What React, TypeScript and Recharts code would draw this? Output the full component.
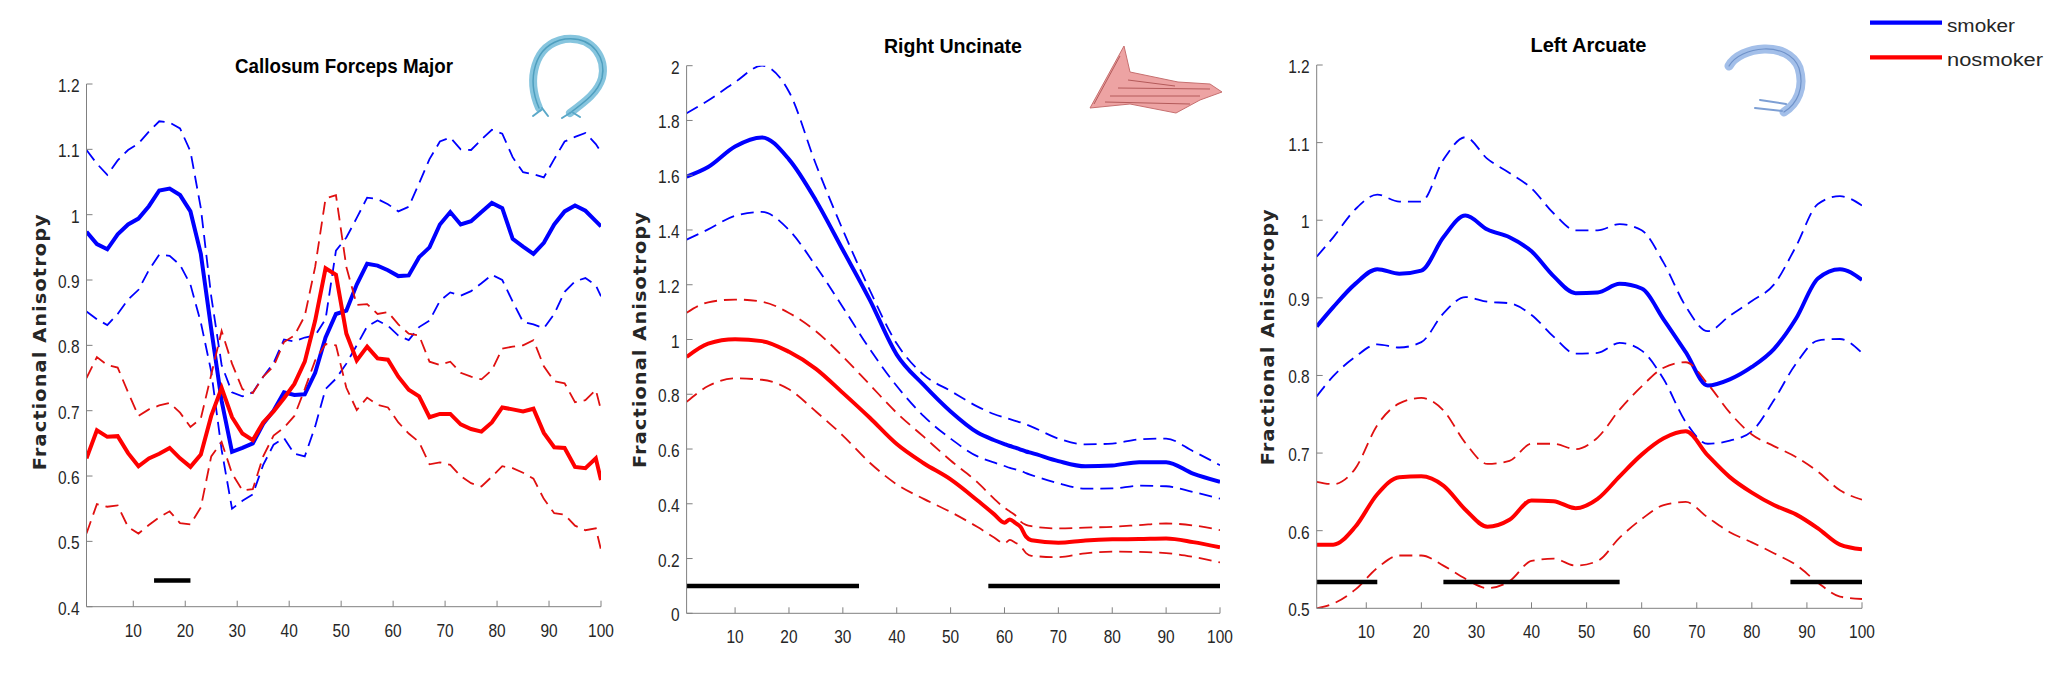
import { LineChart, Line, XAxis, YAxis, ReferenceLine } from 'recharts'

// ---- panel 1: Callosum Forceps Major ----
const x1 = [1, 3, 5, 7, 9, 11, 13, 15, 17, 19, 21, 23, 25, 27, 29, 31, 33, 35, 37, 39, 41, 43, 45, 47, 49, 51, 53, 55, 57, 59, 61, 63, 65, 67, 69, 71, 73, 75, 77, 79, 81, 83, 85, 87, 89, 91, 93, 95, 97, 99, 100]
const p1SmokerMean = [0.974, 0.955, 0.947, 0.97, 0.985, 0.994, 1.013, 1.037, 1.04, 1.03, 1.005, 0.94, 0.825, 0.715, 0.637, 0.643, 0.65, 0.68, 0.7, 0.728, 0.724, 0.725, 0.758, 0.812, 0.848, 0.853, 0.893, 0.925, 0.922, 0.915, 0.906, 0.907, 0.935, 0.95, 0.985, 1.004, 0.985, 0.99, 1.004, 1.018, 1.01, 0.963, 0.951, 0.94, 0.957, 0.985, 1.005, 1.014, 1.006, 0.99, 0.982]
const p1SmokerUpper = [1.099, 1.078, 1.061, 1.083, 1.099, 1.109, 1.127, 1.143, 1.141, 1.132, 1.097, 1.01, 0.875, 0.77, 0.728, 0.722, 0.728, 0.752, 0.773, 0.809, 0.806, 0.812, 0.815, 0.84, 0.945, 0.965, 0.995, 1.026, 1.024, 1.016, 1.005, 1.012, 1.048, 1.085, 1.112, 1.118, 1.1, 1.099, 1.115, 1.13, 1.124, 1.088, 1.065, 1.062, 1.057, 1.085, 1.112, 1.119, 1.125, 1.108, 1.096]
const p1SmokerLower = [0.852, 0.84, 0.831, 0.848, 0.87, 0.885, 0.915, 0.939, 0.937, 0.923, 0.893, 0.835, 0.76, 0.64, 0.55, 0.562, 0.572, 0.617, 0.648, 0.658, 0.634, 0.63, 0.676, 0.733, 0.749, 0.772, 0.8, 0.829, 0.838, 0.83, 0.815, 0.808, 0.828, 0.838, 0.868, 0.881, 0.876, 0.883, 0.895, 0.908, 0.9, 0.867, 0.836, 0.832, 0.826, 0.848, 0.882, 0.898, 0.903, 0.892, 0.875]
const p1NonMean = [0.627, 0.67, 0.66, 0.661, 0.635, 0.615, 0.627, 0.634, 0.643, 0.627, 0.614, 0.633, 0.692, 0.735, 0.69, 0.665, 0.655, 0.682, 0.699, 0.719, 0.741, 0.775, 0.838, 0.918, 0.908, 0.818, 0.777, 0.798, 0.78, 0.778, 0.752, 0.732, 0.722, 0.69, 0.695, 0.695, 0.679, 0.672, 0.668, 0.682, 0.705, 0.702, 0.699, 0.703, 0.666, 0.644, 0.643, 0.614, 0.612, 0.627, 0.594]
const p1NonUpper = [0.75, 0.782, 0.77, 0.766, 0.728, 0.692, 0.702, 0.708, 0.712, 0.697, 0.675, 0.688, 0.755, 0.822, 0.772, 0.733, 0.727, 0.752, 0.768, 0.805, 0.815, 0.845, 0.92, 1.025, 1.03, 0.92, 0.862, 0.863, 0.848, 0.851, 0.832, 0.818, 0.815, 0.775, 0.77, 0.775, 0.758, 0.752, 0.748, 0.762, 0.795, 0.798, 0.8, 0.808, 0.768, 0.745, 0.742, 0.713, 0.716, 0.732, 0.701]
const p1NonLower = [0.512, 0.557, 0.553, 0.555, 0.522, 0.512, 0.525, 0.537, 0.546, 0.528, 0.526, 0.552, 0.63, 0.652, 0.604, 0.578, 0.58, 0.63, 0.662, 0.674, 0.692, 0.733, 0.777, 0.802, 0.8, 0.735, 0.701, 0.72, 0.709, 0.705, 0.682, 0.665, 0.652, 0.618, 0.621, 0.617, 0.6, 0.589, 0.584, 0.599, 0.615, 0.612, 0.605, 0.596, 0.565, 0.543, 0.541, 0.524, 0.517, 0.52, 0.487]
const p1Ticks = [0.4, 0.5, 0.6, 0.7, 0.8, 0.9, 1, 1.1, 1.2]
const p1Bars = [[14, 21]]
const p1BarLevel = 0.44

// ---- panel 2: Right Uncinate ----
const x2 = [1, 5, 10, 15, 20, 25, 30, 35, 40, 45, 50, 55, 58, 60, 61, 62, 63, 64, 65, 70, 75, 80, 85, 90, 95, 100]
const p2SmokerMean = [1.595, 1.63, 1.705, 1.738, 1.658, 1.508, 1.327, 1.145, 0.945, 0.834, 0.737, 0.66, 0.633, 0.618, 0.611, 0.605, 0.598, 0.591, 0.586, 0.556, 0.537, 0.54, 0.552, 0.552, 0.51, 0.48]
const p2SmokerUpper = [1.826, 1.873, 1.94, 2.0, 1.905, 1.64, 1.4, 1.18, 0.985, 0.871, 0.812, 0.755, 0.728, 0.715, 0.709, 0.703, 0.697, 0.69, 0.682, 0.638, 0.617, 0.62, 0.635, 0.638, 0.592, 0.541]
const p2SmokerLower = [1.365, 1.402, 1.452, 1.466, 1.4, 1.268, 1.118, 0.965, 0.83, 0.72, 0.638, 0.573, 0.551, 0.538, 0.531, 0.526, 0.521, 0.512, 0.505, 0.475, 0.455, 0.456, 0.466, 0.464, 0.443, 0.419]
const p2NonMean = [0.936, 0.985, 1.001, 0.994, 0.955, 0.893, 0.805, 0.714, 0.618, 0.548, 0.489, 0.412, 0.363, 0.331, 0.343, 0.33, 0.315, 0.28, 0.267, 0.258, 0.266, 0.27, 0.271, 0.273, 0.26, 0.241]
const p2NonUpper = [1.098, 1.136, 1.146, 1.138, 1.097, 1.03, 0.938, 0.835, 0.732, 0.645, 0.558, 0.478, 0.42, 0.385, 0.372, 0.358, 0.335, 0.323, 0.318, 0.31, 0.313, 0.316, 0.322, 0.328, 0.321, 0.304]
const p2NonLower = [0.772, 0.83, 0.858, 0.853, 0.818, 0.737, 0.649, 0.55, 0.471, 0.418, 0.37, 0.315, 0.278, 0.255, 0.268, 0.258, 0.245, 0.22, 0.21, 0.205, 0.219, 0.225, 0.224, 0.22, 0.206, 0.186]
const p2Ticks = [0, 0.2, 0.4, 0.6, 0.8, 1, 1.2, 1.4, 1.6, 1.8, 2]
const p2Bars = [[1, 33], [57, 100]]
const p2BarLevel = 0.1

// ---- panel 3: Left Arcuate ----
const x3 = [1, 4, 8, 12, 16, 20, 24, 28, 32, 36, 40, 44, 48, 52, 56, 60, 64, 68, 72, 76, 80, 84, 88, 92, 96, 100]
const p3SmokerMean = [0.863, 0.888, 0.918, 0.937, 0.931, 0.935, 0.978, 1.006, 0.988, 0.978, 0.96, 0.928, 0.906, 0.907, 0.918, 0.912, 0.872, 0.83, 0.787, 0.795, 0.811, 0.834, 0.873, 0.925, 0.937, 0.923]
const p3SmokerUpper = [0.953, 0.978, 1.014, 1.033, 1.024, 1.024, 1.078, 1.107, 1.079, 1.061, 1.041, 1.009, 0.987, 0.987, 0.995, 0.987, 0.945, 0.889, 0.857, 0.877, 0.896, 0.917, 0.966, 1.021, 1.031, 1.019]
const p3SmokerLower = [0.773, 0.799, 0.824, 0.84, 0.836, 0.843, 0.88, 0.901, 0.895, 0.893, 0.878, 0.85, 0.828, 0.829, 0.842, 0.832, 0.795, 0.74, 0.712, 0.716, 0.728, 0.768, 0.815, 0.845, 0.847, 0.829]
const p3NonMean = [0.582, 0.582, 0.605, 0.647, 0.669, 0.67, 0.658, 0.627, 0.605, 0.614, 0.639, 0.638, 0.629, 0.641, 0.67, 0.698, 0.719, 0.728, 0.697, 0.669, 0.649, 0.633, 0.621, 0.603, 0.582, 0.576]
const p3NonUpper = [0.663, 0.66, 0.68, 0.736, 0.764, 0.771, 0.755, 0.713, 0.686, 0.69, 0.712, 0.712, 0.705, 0.72, 0.756, 0.786, 0.81, 0.817, 0.789, 0.752, 0.724, 0.709, 0.695, 0.676, 0.652, 0.64]
const p3NonLower = [0.5, 0.506, 0.524, 0.552, 0.568, 0.568, 0.555, 0.538, 0.526, 0.535, 0.561, 0.564, 0.555, 0.561, 0.591, 0.615, 0.633, 0.637, 0.617, 0.598, 0.585, 0.571, 0.556, 0.533, 0.515, 0.512]
const p3Ticks = [0.5, 0.6, 0.7, 0.8, 0.9, 1, 1.1, 1.2]
const p3Bars = [[1, 12], [24, 56], [87, 100]]
const p3BarLevel = 0.534

const xTicks = [10, 20, 30, 40, 50, 60, 70, 80, 90, 100]
const titles = ['Callosum Forceps Major', 'Right Uncinate', 'Left Arcuate']
const legendNames = ['smoker', 'nosmoker']

const W = 2060
const H = 677
const YAW = 60 // y axis width
const XAH = 30 // x axis height
const BLUE = '#0000ff'
const RED = '#ff0000'
const RED_DASH = '#e01010'
const AXIS = '#808080'
const TXT = '#262626'

function rows(xs, a, b, c, d, e, f) {
  return xs.map((x, i) => ({ x, sm: a[i], su: b[i], sl: c[i], nm: d[i], nu: e[i], nl: f[i] }))
}

const data1 = rows(x1, p1SmokerMean, p1SmokerUpper, p1SmokerLower, p1NonMean, p1NonUpper, p1NonLower)
const data2 = rows(x2, p2SmokerMean, p2SmokerUpper, p2SmokerLower, p2NonMean, p2NonUpper, p2NonLower)
const data3 = rows(x3, p3SmokerMean, p3SmokerUpper, p3SmokerLower, p3NonMean, p3NonUpper, p3NonLower)

function XTick({ x, y, payload }: any) {
  return (
    <g>
      <line x1={x} x2={x} y1={y} y2={y - 6} stroke={AXIS} />
      <text
        transform={`translate(${x},${y + 30}) scale(0.86,1)`}
        textAnchor="middle"
        fontSize={18}
        fontFamily="Liberation Sans, Arial, sans-serif"
        fill={TXT}
      >
        {payload.value}
      </text>
    </g>
  )
}

function YTick({ x, y, payload }: any) {
  const label = Number(Number(payload.value).toFixed(1)).toString()
  return (
    <g>
      <line x1={x} x2={x + 6} y1={y} y2={y} stroke={AXIS} />
      <text
        transform={`translate(${x - 7},${y + 8}) scale(0.86,1)`}
        textAnchor="end"
        fontSize={18}
        fontFamily="Liberation Sans, Arial, sans-serif"
        fill={TXT}
      >
        {label}
      </text>
    </g>
  )
}

// plot box in page pixels: left, right, top, bottom
function Panel({ data, box, domain, ticks, bars, barLevel, curve }: any) {
  const [l, r, t, b] = box
  const margin = { left: l - YAW, right: W - r, top: t, bottom: H - b - XAH }
  const dashed = { strokeWidth: 1.8, strokeDasharray: '13 7' }
  return (
    <div style={{ position: 'absolute', left: 0, top: 0 }}>
      <LineChart width={W} height={H} data={data} margin={margin}>
        <XAxis
          dataKey="x"
          type="number"
          domain={[1, 100]}
          ticks={xTicks}
          allowDataOverflow
          height={XAH}
          tickSize={0}
          tickMargin={0}
          tickLine={false}
          axisLine={{ stroke: AXIS }}
          tick={(p) => <XTick {...p} />}
        />
        <YAxis
          type="number"
          domain={domain}
          ticks={ticks}
          allowDataOverflow
          width={YAW}
          tickSize={0}
          tickMargin={0}
          tickLine={false}
          axisLine={{ stroke: AXIS }}
          tick={(p) => <YTick {...p} />}
          interval={0}
        />
        <Line type={curve} dataKey="su" stroke={BLUE} {...dashed} dot={false} activeDot={false} isAnimationActive={false} />
        <Line type={curve} dataKey="sl" stroke={BLUE} {...dashed} dot={false} activeDot={false} isAnimationActive={false} />
        <Line type={curve} dataKey="sm" stroke={BLUE} strokeWidth={4} dot={false} activeDot={false} isAnimationActive={false} />
        <Line type={curve} dataKey="nu" stroke={RED_DASH} {...dashed} dot={false} activeDot={false} isAnimationActive={false} />
        <Line type={curve} dataKey="nl" stroke={RED_DASH} {...dashed} dot={false} activeDot={false} isAnimationActive={false} />
        <Line type={curve} dataKey="nm" stroke={RED} strokeWidth={4} dot={false} activeDot={false} isAnimationActive={false} />
        {bars.map(([a, c]) => (
          <ReferenceLine
            key={a}
            segment={[{ x: a, y: barLevel }, { x: c, y: barLevel }]}
            stroke="#000"
            strokeWidth={4.5}
            ifOverflow="visible"
          />
        ))}
      </LineChart>
    </div>
  )
}

const titleFont = 'Liberation Sans, Arial, sans-serif'

function Decor() {
  return (
    <svg width={W} height={H} style={{ position: 'absolute', left: 0, top: 0 }}>
      {/* titles */}
      <text x={344} y={72.5} textAnchor="middle" fontSize={21} fontWeight="bold" fontFamily={titleFont} textLength={218} lengthAdjust="spacingAndGlyphs" fill="#000">{titles[0]}</text>
      <text x={953} y={52.5} textAnchor="middle" fontSize={21} fontWeight="bold" fontFamily={titleFont} textLength={138} lengthAdjust="spacingAndGlyphs" fill="#000">{titles[1]}</text>
      <text x={1588.5} y={52.3} textAnchor="middle" fontSize={21} fontWeight="bold" fontFamily={titleFont} textLength={116} lengthAdjust="spacingAndGlyphs" fill="#000">{titles[2]}</text>

      {/* y labels */}
      {[[46, 341.7], [645.5, 339.5], [1274, 336.7]].map(([x, y]) => (
        <text key={x} transform={`translate(${x},${y}) rotate(-90)`} textAnchor="middle" fontSize={18} fontWeight="bold" fontFamily="DejaVu Sans, sans-serif" textLength={257} lengthAdjust="spacingAndGlyphs" letterSpacing={1} fill="#262626">
          Fractional Anisotropy
        </text>
      ))}

      {/* legend */}
      <line x1={1870} x2={1942} y1={22.7} y2={22.7} stroke={BLUE} strokeWidth={4.3} />
      <line x1={1870} x2={1942} y1={57.3} y2={57.3} stroke={RED} strokeWidth={4.3} />
      <text x={1947} y={32} fontSize={18} fontFamily={titleFont} textLength={68} lengthAdjust="spacingAndGlyphs" fill={TXT}>{legendNames[0]}</text>
      <text x={1947} y={66} fontSize={18} fontFamily={titleFont} textLength={96} lengthAdjust="spacingAndGlyphs" fill={TXT}>{legendNames[1]}</text>

      {/* tract icons (decorative) */}
      <g fill="none" strokeLinecap="round">
        <path d="M539,108 C527,80 533,45 565,39 C595,36 606,60 602,78 C598,92 586,101 570,113" stroke="#86c5de" strokeWidth={8} />
        <path d="M539,108 C527,80 533,45 565,39 C595,36 606,60 602,78 C598,92 586,101 570,113" stroke="#4f9fbf" strokeWidth={1.5} />
        <path d="M541,110 L533,116 M542,108 L548,116 M570,113 L562,118 M572,112 L580,117" stroke="#5aa8c8" strokeWidth={2} />
      </g>
      <g>
        <path d="M1090,108 L1124,46 L1130,72 L1178,82 L1210,84 L1222,92 L1200,100 L1176,113 L1130,104 Z" fill="#eda3a3" stroke="#c77070" strokeWidth={1} />
        <path d="M1094,104 L1120,56 M1105,102 L1190,104 M1110,96 L1200,96 M1118,88 L1210,89 M1128,80 L1175,86" stroke="#b45a5a" strokeWidth={1} fill="none" />
      </g>
      <g fill="none" strokeLinecap="round">
        <path d="M1729,66 C1740,46 1788,40 1799,68 C1805,88 1797,104 1784,112" stroke="#a3bfe9" strokeWidth={9} />
        <path d="M1729,66 C1740,46 1788,40 1799,68 C1805,88 1797,104 1784,112" stroke="#6f92c9" strokeWidth={1.2} />
        <path d="M1760,100 L1786,104 M1755,108 L1782,111" stroke="#7d9fd4" strokeWidth={2} />
      </g>
    </svg>
  )
}

export default function App() {
  return (
    <div style={{ position: 'absolute', left: 0, top: 0, width: W, height: H, background: '#fff' }}>
      <Panel data={data1} box={[86.5, 601, 84, 606.7]} domain={[0.4, 1.2]} ticks={p1Ticks} bars={p1Bars} barLevel={p1BarLevel} curve="linear" />
      <Panel data={data2} box={[686.6, 1220, 65.7, 613.3]} domain={[0, 2]} ticks={p2Ticks} bars={p2Bars} barLevel={p2BarLevel} curve="monotone" />
      <Panel data={data3} box={[1316.7, 1862, 65, 608.3]} domain={[0.5, 1.2]} ticks={p3Ticks} bars={p3Bars} barLevel={p3BarLevel} curve="monotone" />
      <Decor />
    </div>
  )
}
